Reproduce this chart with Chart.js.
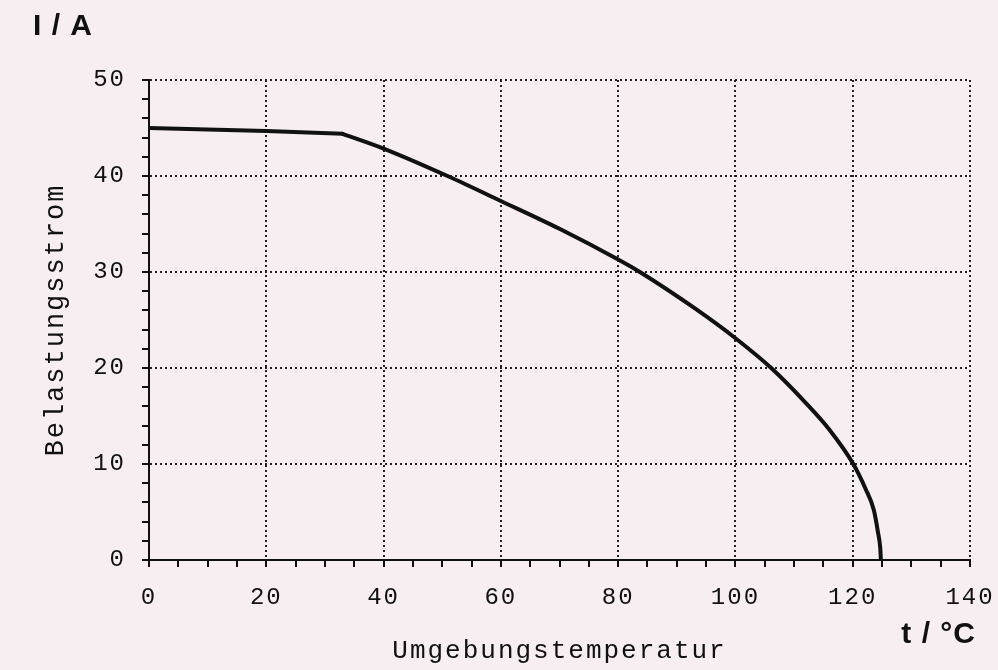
<!DOCTYPE html>
<html lang="de">
<head>
<meta charset="utf-8">
<title>Belastungsstrom</title>
<script src="https://cdn.jsdelivr.net/npm/chart.js@4.4.1/dist/chart.umd.min.js"></script>
<style>
  html, body { margin: 0; padding: 0; background: #f6eef0; }
</style>
</head>
<body>
<canvas id="chart" width="998" height="670"></canvas>
<script>
// Werte aus dem Bild abgelesen
// gerader Abschnitt bis zum Knick
const tempGerade = [0, 20, 33];
const stromGerade = [45, 44.7, 44.4];
// gekruemmter Abschnitt ab dem Knick
const tempKurve = [33, 40, 50.9, 60, 70, 80, 83.7, 93.1, 100, 106.1, 112.1, 116, 120.1, 122.2, 123.6, 124.3, 124.7, 124.8];
const stromKurve = [44.4, 42.86, 40, 37.4, 34.5, 31.3, 30, 26.2, 23.1, 20, 16.3, 13.6, 10, 7.4, 5.2, 2.9, 1.2, 0];

const xTicks = [0, 20, 40, 60, 80, 100, 120, 140];
const yTicks = [0, 10, 20, 30, 40, 50];

const ctx = document.getElementById("chart");
const mono = "'Liberation Mono', 'Courier New', monospace";
const ink = "#111";

const toPoints = (xs, ys) => xs.map((x, i) => ({ x: x, y: ys[i] }));

const extras = {
  id: "extras",
  beforeLayout(chart) {
    chart.ctx.letterSpacing = "2px";
  },
  beforeDraw(chart) {
    const c = chart.ctx;
    c.save();
    c.fillStyle = "#f6eef0";
    c.fillRect(0, 0, chart.width, chart.height);
    c.restore();
    c.letterSpacing = "2px";
  },
  afterDraw(chart) {
    const c = chart.ctx;
    c.save();
    c.letterSpacing = "1px";
    c.fillStyle = ink;
    c.font = "bold 30px 'Liberation Sans', Arial, sans-serif";
    c.textBaseline = "alphabetic";
    c.textAlign = "left";
    c.fillText("I / A", 33, 35);
    c.textAlign = "right";
    c.fillText("t / °C", 976, 643);
    c.restore();
  },
};

const linie = {
  showLine: true,
  borderColor: ink,
  borderWidth: 4,
  pointRadius: 0,
  borderCapStyle: "round",
  borderJoinStyle: "round",
};

new Chart(ctx, {
  type: "scatter",
  data: {
    datasets: [
      { ...linie, data: toPoints(tempGerade, stromGerade), tension: 0 },
      { ...linie, data: toPoints(tempKurve, stromKurve), cubicInterpolationMode: "monotone" },
    ],
  },
  options: {
    responsive: false,
    animation: false,
    layout: {
      padding: { left: 40, right: 28, top: 80, bottom: 0 },
    },
    plugins: {
      legend: { display: false },
      tooltip: { enabled: false },
    },
    scales: {
      x: {
        type: "linear",
        min: 0,
        max: 140,
        afterFit(scale) {
          scale.height = 110;
          scale.paddingLeft = 0;
          scale.paddingRight = 0;
        },
        ticks: {
          stepSize: 5,
          maxTicksLimit: 100,
          autoSkip: false,
          maxRotation: 0,
          padding: 16,
          color: ink,
          font: { family: mono, size: 24 },
          callback: (v) => (xTicks.includes(v) ? v : ""),
        },
        grid: {
          color: (c) => (xTicks.includes(c.tick.value) ? "#222" : "transparent"),
          lineWidth: 2,
          tickLength: 7,
          tickColor: ink,
          tickWidth: 2,
        },
        border: { display: true, color: ink, width: 2, dash: [2, 3] },
        title: {
          display: true,
          text: "Umgebungstemperatur",
          color: ink,
          font: { family: mono, size: 26 },
          padding: { top: 0, bottom: 3 },
        },
      },
      y: {
        min: 0,
        max: 50,
        afterFit(scale) {
          scale.width = 109;
          scale.paddingTop = 0;
          scale.paddingBottom = 0;
        },
        ticks: {
          stepSize: 2,
          maxTicksLimit: 100,
          autoSkip: false,
          padding: 16,
          color: ink,
          font: { family: mono, size: 24 },
          callback: (v) => (yTicks.includes(v) ? v : ""),
        },
        grid: {
          color: (c) => (yTicks.includes(c.tick.value) ? "#222" : "transparent"),
          lineWidth: 2,
          tickLength: 7,
          tickColor: ink,
          tickWidth: 2,
        },
        border: { display: true, color: ink, width: 2, dash: [2, 3] },
        title: {
          display: true,
          text: "Belastungsstrom",
          color: ink,
          font: { family: mono, size: 27 },
          padding: { top: 0, bottom: 0 },
        },
      },
    },
  },
  plugins: [extras],
});
</script>
</body>
</html>
